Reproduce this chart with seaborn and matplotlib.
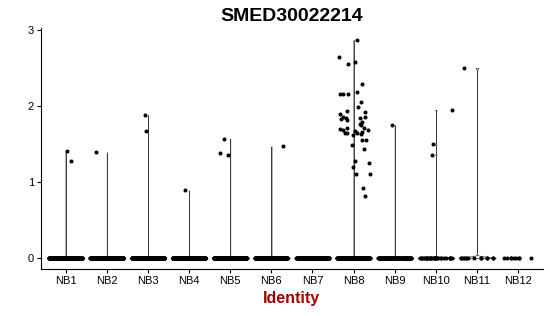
import numpy as np
import pandas as pd
import matplotlib
matplotlib.use("Agg")
import matplotlib.pyplot as plt
import seaborn as sns

clusters = ["NB1", "NB2", "NB3", "NB4", "NB5", "NB6", "NB7", "NB8", "NB9", "NB10", "NB11", "NB12"]
zero_counts = [400, 350, 300, 300, 250, 220, 220, 220, 120, 30, 14, 9]
nonzero_values = {
    "NB1": [1.41, 1.28],
    "NB2": [1.39],
    "NB3": [1.67, 1.88],
    "NB4": [0.89],
    "NB5": [1.38, 1.57, 1.36],
    "NB6": [1.47],
    "NB7": [],
    "NB8": [2.87, 2.64, 2.58, 2.55, 2.29, 2.19, 2.16, 2.16, 2.16, 2.05, 1.99,
            1.93, 1.92, 1.89, 1.86, 1.85, 1.84, 1.84, 1.83, 1.81, 1.79, 1.76,
            1.75, 1.71, 1.71, 1.70, 1.68, 1.68, 1.67, 1.66, 1.65, 1.65, 1.64,
            1.63, 1.62, 1.55, 1.55, 1.49, 1.43, 1.28, 1.25, 1.20, 1.11, 1.11,
            0.92, 0.82],
    "NB9": [1.75],
    "NB10": [1.95, 1.50, 1.36],
    "NB11": [2.50],
    "NB12": [],
}
title = "SMED30022214"
xlabel = "Identity"
yticks = [0, 1, 2, 3]

rows = []
for c, nz in zip(clusters, zero_counts):
    vals = [0.0] * nz + list(nonzero_values[c])
    for v in vals:
        rows.append((c, v))
df = pd.DataFrame(rows, columns=["cluster", "expr"])

sns.set_theme(style="ticks")
plt.rcParams["font.family"] = ["Liberation Sans", "DejaVu Sans"]
plt.rcParams["text.color"] = "black"

fig = plt.figure(figsize=(5.5, 3.16), dpi=100)
ax = fig.add_axes([0.0745, 0.149, 0.9125, 0.762])

# violins only for groups with variation
var_groups = df.groupby("cluster")["expr"].transform("std") > 0
df_v = df[var_groups]
sns.violinplot(data=df_v, x="cluster", y="expr", order=clusters,
               density_norm="width", cut=0, bw_adjust=0.04, gridsize=1500,
               inner=None, width=0.9, color="white", linecolor="#3c3c3c",
               linewidth=0.5, fill=True, ax=ax)

np.random.seed(3)
sns.stripplot(data=df, x="cluster", y="expr", order=clusters, jitter=0.4,
              color="black", size=2.9, linewidth=0, ax=ax)

ax.set_xlim(-0.6, 11.6)
ax.set_ylim(-0.144, 3.024)
ax.set_yticks(yticks)
ax.set_yticklabels([str(t) for t in yticks])
ax.set_ylabel("")
ax.set_xlabel(xlabel, fontsize=11.5, fontweight="bold", color="#A00000", labelpad=4)
ax.set_title(title, fontsize=14, fontweight="bold", pad=5, color="black")
for s in ["top", "right"]:
    ax.spines[s].set_visible(False)
for s in ["left", "bottom"]:
    ax.spines[s].set_linewidth(0.8)
    ax.spines[s].set_color("black")
ax.tick_params(axis="both", length=3, width=0.8, labelsize=8, colors="black", pad=2)

fig.savefig("out.png", dpi=100)
